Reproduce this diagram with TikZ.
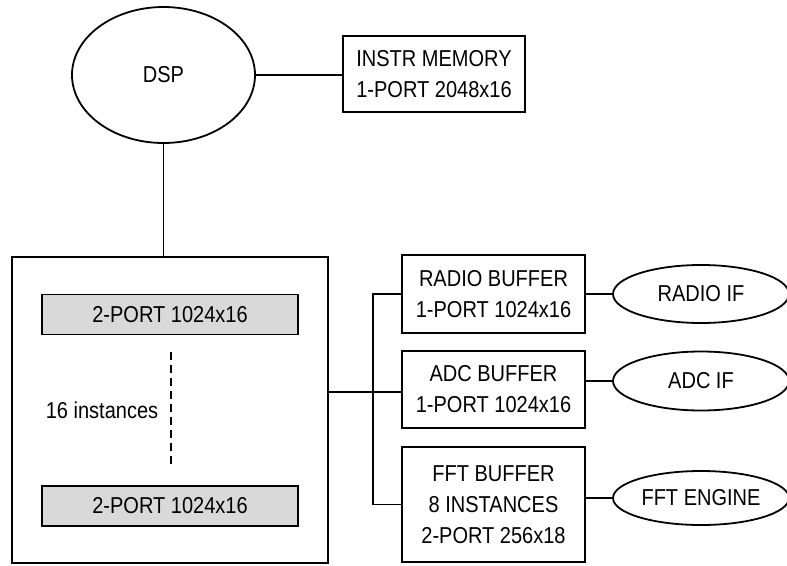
\documentclass[tikz,border=0pt]{standalone}
\usepackage{fontspec}
\setmainfont{Liberation Sans}[FakeStretch=0.87]
\usetikzlibrary{shapes.geometric}

\tikzset{
  blk/.style={draw, line width=1.8pt, inner sep=0pt, align=center},
  membox/.style={blk, minimum width=183pt},
  ifell/.style={draw, ellipse, line width=1.8pt, inner sep=0pt,
                minimum width=176pt},
  sram/.style={blk, fill=black!15, minimum width=256pt, minimum height=40pt},
  wire/.style={line width=1.4pt},
}

\begin{document}
\begin{tikzpicture}[x=1pt, y=-1pt,
  every node/.append style={font=\fontsize{23}{31}\selectfont}]
\useasboundingbox (0,0) rectangle (787,565);

% processor and its program memory
\node[draw, ellipse, line width=1.8pt, minimum width=183pt, minimum height=136pt,
      inner sep=0pt] (dsp) at (163.5,75) {DSP};
\node[blk, minimum width=182pt, minimum height=76pt] (instr) at (434,74)
  {INSTR MEMORY\\1-PORT 2048x16};

% shared data memory bank
\node[blk, minimum width=316pt, minimum height=306pt] (bank) at (170,410) {};
\node[sram] (mem1) at (170,314.5) {2-PORT 1024x16};
\node[sram] (mem2) at (170,506) {2-PORT 1024x16};
\coordinate (dtop) at (171,352);
\coordinate (dbot) at (171,468);
\node (count) at (102,410) {16 instances};

% peripheral buffers
\node[membox, minimum height=78pt] (radio) at (493.5,294) {RADIO BUFFER\\1-PORT 1024x16};
\node[membox, minimum height=77pt] (adc) at (493.5,389.5) {ADC BUFFER\\1-PORT 1024x16};
\node[membox, minimum height=115pt] (fft) at (493.5,504.5) {FFT BUFFER\\8 INSTANCES\\2-PORT 256x18};

% peripheral interfaces
\node[ifell, minimum height=58pt] (radioif) at (701,294) {RADIO IF};
\node[ifell, minimum height=59pt] (adcif) at (701,381) {ADC IF};
\node[ifell, minimum height=54pt] (fftif) at (701,498) {FFT ENGINE};

% bus junction
\coordinate (busm) at (373,392);

% connections
\draw[wire] (dsp.east) -- (dsp.east -| instr.west);
\draw[wire] (dsp.south) -- (dsp.south |- bank.north);
\draw[line width=1.6pt, dash pattern=on 8pt off 5pt] (dtop) -- (dbot);
\draw[wire] (busm -| bank.east) -- (busm -| adc.west);
\draw[wire] (radio.west) -| (busm) |- (fft.west);
\draw[wire] (radio.east) -- (radioif.west);
\draw[wire] (adcif.west -| adc.east) -- (adcif.west);
\draw[wire] (fftif.west -| fft.east) -- (fftif.west);
\end{tikzpicture}
\end{document}
